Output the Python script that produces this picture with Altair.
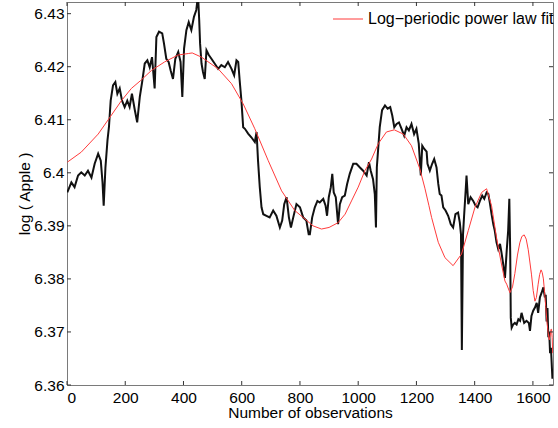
import altair as alt
import pandas as pd

# Observed log price of Apple, indexed by observation number
obs = [1, 15, 26, 38, 49, 61, 72, 84, 95, 107, 116, 122, 126, 132, 139, 144, 150, 158,
       166, 173, 181, 189, 198, 207, 215, 223, 233, 241, 250, 258, 267, 276, 284, 292,
       301, 307, 316, 327, 333, 341, 349, 356, 364, 372, 382, 390, 396, 402, 410, 418,
       427, 436, 444, 450, 454, 457, 462, 467, 473, 479, 487, 496, 507, 519, 530, 542,
       553, 565, 574, 582, 588, 593, 599, 605, 611, 622, 633, 645, 651, 656, 662, 668,
       674, 685, 696, 708, 719, 731, 739, 746, 754, 762, 769, 777, 788, 800, 811, 822,
       830, 834, 842, 851, 860, 868, 880, 888, 893, 899, 906, 911, 916, 923, 931, 937,
       945, 954, 962, 971, 983, 994, 1006, 1017, 1029, 1037, 1043, 1051, 1057, 1061,
       1064, 1069, 1074, 1082, 1092, 1101, 1110, 1117, 1124, 1132, 1140, 1149, 1158,
       1166, 1174, 1183, 1192, 1200, 1208, 1215, 1220, 1227, 1235, 1238, 1246, 1254,
       1261, 1269, 1275, 1280, 1286, 1292, 1300, 1309, 1318, 1326, 1334, 1343, 1349,
       1353, 1356, 1360, 1364, 1369, 1372, 1378, 1386, 1395, 1403, 1410, 1418, 1426,
       1433, 1441, 1447, 1452, 1458, 1464, 1469, 1475, 1481, 1487, 1492, 1498, 1504,
       1510, 1515, 1519, 1522, 1524, 1527, 1532, 1538, 1544, 1550, 1556, 1561, 1570,
       1578, 1586, 1590, 1595, 1601, 1607, 1613, 1618, 1624, 1630, 1636, 1641, 1644,
       1647, 1650, 1653, 1656, 1659, 1662, 1665, 1667, 1668]
log_price = [6.3963, 6.3982, 6.3973, 6.3995, 6.4001, 6.3995, 6.4004, 6.3991, 6.4017,
             6.4036, 6.4023, 6.3982, 6.3938, 6.4010, 6.4061, 6.4086, 6.4136, 6.4165,
             6.4171, 6.4149, 6.4159, 6.4136, 6.4124, 6.4136, 6.4124, 6.4149, 6.4118,
             6.4095, 6.4143, 6.4171, 6.4206, 6.4212, 6.4199, 6.4218, 6.4159, 6.4256,
             6.4266, 6.4263, 6.4244, 6.4215, 6.4209, 6.4193, 6.4177, 6.4215, 6.4228,
             6.4209, 6.4143, 6.4234, 6.4269, 6.4284,
             6.4269, 6.4294, 6.4307, 6.4335, 6.4288, 6.4244, 6.4206, 6.4190, 6.4177,
             6.4231, 6.4222, 6.4215, 6.4206, 6.4196, 6.4203, 6.4199, 6.4209, 6.4196,
             6.4184, 6.4212, 6.4209, 6.4174, 6.4136, 6.4086, 6.4083, 6.4074, 6.4067,
             6.4058, 6.4077, 6.4023, 6.3973, 6.3935, 6.3922, 6.3919, 6.3916, 6.3929,
             6.3919, 6.3897, 6.3910, 6.3941, 6.3954, 6.3916, 6.3897, 6.3916, 6.3941,
             6.3935, 6.3916, 6.3910, 6.3884,
             6.3884, 6.3916, 6.3935, 6.3947, 6.3944, 6.3951, 6.3938, 6.3919, 6.3954,
             6.3973, 6.3998, 6.3963, 6.3954, 6.3903, 6.3941, 6.3954, 6.3957, 6.3979,
             6.3998, 6.4017, 6.4017, 6.4010, 6.4004, 6.3995, 6.4020, 6.4004, 6.3988,
             6.3960, 6.3897, 6.4010, 6.4048, 6.4086, 6.4118, 6.4127, 6.4121, 6.4124,
             6.4108, 6.4086, 6.4092, 6.4095, 6.4083, 6.4070, 6.4086, 6.4080, 6.4092,
             6.4073, 6.4083, 6.4055, 6.3995, 6.4051, 6.4045, 6.4040, 6.4017, 6.4004,
             6.4017, 6.4026, 6.4010, 6.3979, 6.3960, 6.3957, 6.3935, 6.3929, 6.3919,
             6.3903, 6.3897, 6.3922, 6.3925, 6.3906, 6.3884, 6.3666, 6.3884, 6.3922,
             6.3966, 6.3995, 6.3941, 6.3954, 6.3947, 6.3938, 6.3935, 6.3947, 6.3957,
             6.3951, 6.3963, 6.3960, 6.3944, 6.3922, 6.3903, 6.3891, 6.3869, 6.3856,
             6.3866, 6.3850, 6.3828, 6.3802, 6.3853, 6.3891, 6.3951, 6.3853, 6.3727,
             6.3708, 6.3714, 6.3717, 6.3714, 6.3724, 6.3721, 6.3736, 6.3717, 6.3721,
             6.3717, 6.3702, 6.3730, 6.3740, 6.3746, 6.3755, 6.3736, 6.3765, 6.3774,
             6.3784, 6.3765, 6.3770, 6.3720, 6.3745, 6.3690, 6.3700, 6.3660, 6.3670,
             6.3635, 6.3612, 6.3625]

# Log-periodic power law fit
fit_obs = [1, 49, 107, 144, 187, 221, 253, 290, 335, 381, 418, 430, 462, 519, 565, 605,
           645, 691, 737, 782, 817, 845, 874, 900, 931, 955, 977, 1000, 1023, 1046, 1069,
           1097, 1124, 1155, 1183, 1212, 1229, 1243, 1252, 1275, 1298, 1326, 1355, 1378,
           1401, 1424, 1441, 1458, 1475, 1492, 1504, 1510, 1521, 1530, 1538, 1547, 1555,
           1562, 1570, 1577, 1584, 1590, 1595, 1601, 1607, 1612, 1618, 1623, 1628, 1632,
           1636, 1640, 1644, 1648, 1652, 1656, 1659, 1662, 1664, 1666, 1668]
fit_value = [6.4020, 6.4039, 6.4073, 6.4102, 6.4136, 6.4159, 6.4174, 6.4193, 6.4209,
             6.4222, 6.4225, 6.4226, 6.4218, 6.4196, 6.4168, 6.4130, 6.4083, 6.4023,
             6.3966, 6.3929, 6.3913, 6.3900, 6.3894, 6.3897, 6.3906, 6.3922, 6.3947,
             6.3973, 6.4004, 6.4026, 6.4055, 6.4077, 6.4081, 6.4073, 6.4051, 6.4007,
             6.3971, 6.3938, 6.3916, 6.3869, 6.3840, 6.3825, 6.3847, 6.3891, 6.3935,
             6.3963, 6.3970, 6.3938, 6.3878, 6.3828, 6.3796, 6.3790, 6.3774, 6.3785,
             6.3810, 6.3845, 6.3868, 6.3880, 6.3883, 6.3875, 6.3855, 6.3830, 6.3809,
             6.3778, 6.3758, 6.3765, 6.3790, 6.3808, 6.3817, 6.3812, 6.3800, 6.3775,
             6.3748, 6.3720, 6.3700, 6.3685, 6.3692, 6.3705, 6.3705, 6.3690, 6.3660]

x_ticks = [0, 200, 400, 600, 800, 1000, 1200, 1400, 1600]
y_ticks = [6.36, 6.37, 6.38, 6.39, 6.40, 6.41, 6.42, 6.43]
legend_label = "Log\u2212periodic power law fit"

W, H = 486, 383
FONT = "Liberation Sans"
FS = 15.5
TICK = 4

x_scale = alt.Scale(domain=[0, 1669], nice=False, zero=False)
y_scale = alt.Scale(domain=[6.36, 6.4322], nice=False, zero=False)

# One axis definition shared by every layer so the merged axes stay intact
x_axis = alt.Axis(values=x_ticks, format="d", title="Number of observations",
                  labelPadding=5, titlePadding=0)
y_axis = alt.Axis(values=y_ticks, labelExpr="format(datum.value, '.2~f')",
                  title="log ( Apple )", labelPadding=3, titlePadding=1)

price = pd.DataFrame({"obs": obs, "value": log_price})
fit = pd.DataFrame({"obs": fit_obs, "value": fit_value})

price_line = alt.Chart(price).mark_line(
    color="#111111", strokeWidth=2, clip=True
).encode(
    x=alt.X("obs:Q", scale=x_scale, axis=x_axis),
    y=alt.Y("value:Q", scale=y_scale, axis=y_axis),
)

fit_line = alt.Chart(fit).mark_line(
    color="#ff3b3b", strokeWidth=1, clip=True
).encode(
    x=alt.X("obs:Q", scale=x_scale, axis=x_axis),
    y=alt.Y("value:Q", scale=y_scale, axis=y_axis),
)

# Inward tick marks on all four sides of the box
xt = pd.DataFrame({"t": x_ticks})
yt = pd.DataFrame({"t": y_ticks})
tick_style = dict(color="#333333", strokeWidth=1)

x_ticks_bottom = alt.Chart(xt).mark_rule(**tick_style).encode(
    x=alt.X("t:Q", scale=x_scale, axis=x_axis), y=alt.value(H), y2=alt.value(H - TICK))
x_ticks_top = alt.Chart(xt).mark_rule(**tick_style).encode(
    x=alt.X("t:Q", scale=x_scale, axis=x_axis), y=alt.value(0), y2=alt.value(TICK))
y_ticks_left = alt.Chart(yt).mark_rule(**tick_style).encode(
    y=alt.Y("t:Q", scale=y_scale, axis=y_axis), x=alt.value(0), x2=alt.value(TICK))
y_ticks_right = alt.Chart(yt).mark_rule(**tick_style).encode(
    y=alt.Y("t:Q", scale=y_scale, axis=y_axis), x=alt.value(W), x2=alt.value(W - TICK))

# Legend entry in the upper right corner
legend_key = alt.Chart(pd.DataFrame({"label": [legend_label]})).mark_rule(
    color="#ff3b3b", strokeWidth=1
).encode(x=alt.value(266), x2=alt.value(296), y=alt.value(17))
legend_text = alt.Chart(pd.DataFrame({"label": [legend_label]})).mark_text(
    align="left", baseline="middle", font=FONT, fontSize=16, color="black"
).encode(x=alt.value(301), y=alt.value(17), text="label:N")

chart = alt.layer(
    price_line, fit_line,
    x_ticks_bottom, x_ticks_top, y_ticks_left, y_ticks_right,
    legend_key, legend_text,
).properties(
    width=W, height=H,
    padding={"left": 67, "top": 2, "right": 5, "bottom": 43},
    autosize=alt.AutoSizeParams(type="none"),
    background="white",
).configure_view(
    stroke="#7a7a7a", strokeWidth=1
).configure_axis(
    grid=False, domain=False, ticks=False, tickSize=0,
    labelFont=FONT, labelFontSize=FS, labelColor="black",
    titleFont=FONT, titleFontSize=FS, titleFontWeight="normal", titleColor="black",
)

chart.save("out.html", embed_options={"renderer": "svg", "actions": False})
